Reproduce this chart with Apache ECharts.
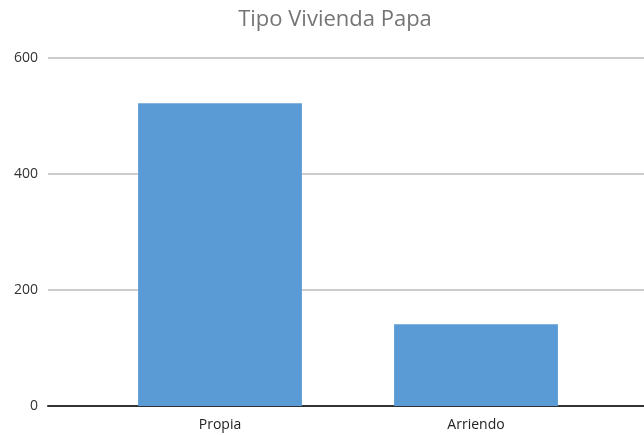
<!DOCTYPE html>
<html>
<head>
<meta charset="utf-8">
<script src="https://cdn.jsdelivr.net/npm/echarts@6/dist/echarts.min.js"></script>
<style>
html, body { margin: 0; padding: 0; background: #fff; }
#chart { width: 644px; height: 435px; }
</style>
</head>
<body>
<div id="chart"></div>
<script>
var categories = ['Propia', 'Arriendo'];
var values = [522, 141];
var yTicks = [0, 200, 400, 600];

var chart = echarts.init(document.getElementById('chart'));

var option = {
	backgroundColor: '#ffffff',
	title: {
		text: 'Tipo Vivienda Papa',
		left: 330,
		textAlign: 'center',
		top: 4,
		textStyle: {
			fontFamily: 'Open Sans',
			fontSize: 22,
			fontWeight: 'normal',
			color: '#757575'
		}
	},
	grid: [
		// rejilla de fondo: lineas y eje y
		{ left: 48, right: 0, top: 58, bottom: 29 },
		// rejilla de las barras
		{ left: 92, right: 40, top: 58, bottom: 29 }
	],
	xAxis: [{
		gridIndex: 0,
		type: 'category',
		data: [''],
		axisLine: { show: true, lineStyle: { color: '#333333', width: 2 } },
		axisTick: { show: false },
		axisLabel: { show: false }
	}, {
		gridIndex: 1,
		type: 'category',
		data: categories,
		axisLine: { show: false },
		axisTick: { show: false },
		axisLabel: {
			margin: 12,
			fontFamily: 'Open Sans',
			fontSize: 14,
			color: '#222222'
		}
	}],
	yAxis: [{
		gridIndex: 0,
		type: 'value',
		min: yTicks[0],
		max: yTicks[yTicks.length - 1],
		interval: 200,
		axisLine: { show: false },
		axisTick: { show: false },
		axisLabel: {
			margin: 10,
			fontFamily: 'Open Sans',
			fontSize: 14,
			color: '#333333'
		},
		splitLine: { lineStyle: { color: '#cccccc', width: 2 } }
	}, {
		gridIndex: 1,
		type: 'value',
		min: yTicks[0],
		max: yTicks[yTicks.length - 1],
		show: false
	}],
	series: [{
		type: 'bar',
		xAxisIndex: 1,
		yAxisIndex: 1,
		data: values,
		barWidth: '64%',
		itemStyle: { color: '#5b9bd5' }
	}]
};

chart.setOption(option);
</script>
</body>
</html>
